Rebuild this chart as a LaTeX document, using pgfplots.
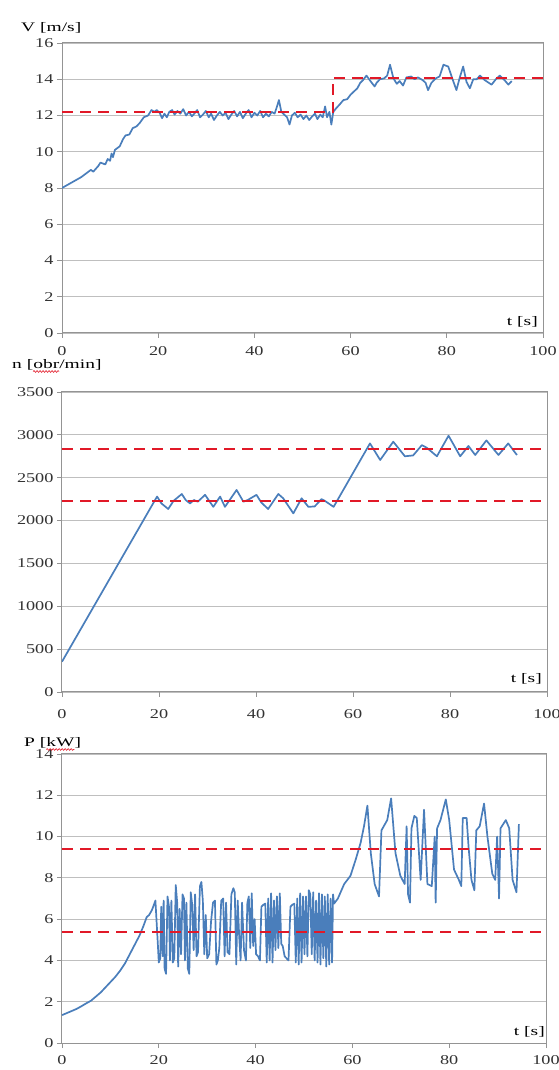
\documentclass[border=0pt]{standalone}
\usepackage{pgfplots}
\pgfplotsset{compat=1.18}
\usepackage{fontspec}
\setmainfont[FakeStretch=1.35]{Liberation Serif}
\newfontfamily\labfont[FakeStretch=1.5]{Liberation Serif}
\usetikzlibrary{decorations.pathmorphing}
\definecolor{lblue}{RGB}{74,126,187}
\definecolor{dred}{RGB}{225,25,40}
\newlength\wna \newlength\wnb \newlength\wpa \newlength\wpb
\pgfplotsset{
  myax/.style={scale only axis, anchor=south west,
    xmin=0, xmax=100, xtick={0,20,...,100},
    ymajorgrids, major grid style={draw=black!25, line width=0.9pt},
    axis line style={draw=black!42, line width=1pt},
    tick style={draw=black!42, line width=0.9pt},
    tick align=outside, major tick length=5pt,
    xtick pos=bottom, ytick pos=left,
    ticklabel style={font=\fontsize{13.5}{15}\selectfont, text=black!80},
    /pgf/number format/assume math mode=true,
    /pgf/number format/1000 sep={}},
  dat/.style={draw=lblue, line width=1.7pt, line join=round, no marks},
  ref/.style={draw=dred, line width=2pt, dash pattern=on 11pt off 7pt, no marks}
}
\begin{document}%
\settowidth\wna{\labfont\fontsize{13}{15}\selectfont n [}%
\settowidth\wnb{\labfont\fontsize{13}{15}\selectfont obr}%
\settowidth\wpa{\labfont\fontsize{13}{15}\selectfont P [}%
\settowidth\wpb{\labfont\fontsize{13}{15}\selectfont kW}%
\begin{tikzpicture}[x=1pt,y=1pt]
\path[use as bounding box] (0,0) rectangle (559,1070);
% ---------- V ----------
\begin{axis}[myax, at={(62pt,737pt)}, width=481pt, height=290pt,
  ymin=0, ymax=16, ytick={0,2,...,16}, xticklabel style={yshift=-5pt}]
\addplot[dat] coordinates {
(0,8.0) (1,8.15) (2,8.3) (3,8.45) (4,8.6) (5,8.8) (6,9.0) (6.5,8.9) (7.5,9.2) (8,9.4) (9,9.3) (9.5,9.6) (10,9.5) (10.3,9.9) (10.6,9.7) (11,10.1) (11.5,10.2) (12,10.3) (12.7,10.7) (13.2,10.9) (14,10.95) (14.7,11.3) (15.5,11.4) (16.2,11.6) (17,11.9) (17.9,12.0) (18.6,12.3) (19.2,12.2) (19.7,12.3) (20.3,12.15) (20.8,11.85) (21.3,12.1) (21.8,11.9) (22.3,12.2) (22.9,12.3) (23.4,12.05) (24,12.25) (24.6,12.1) (25.2,12.35) (25.8,12.0) (26.4,12.2) (27,11.95) (27.5,12.1) (28.1,12.3) (28.7,11.9) (29.3,12.05) (29.9,12.25) (30.5,11.9) (31,12.1) (31.6,11.75) (32.2,12.0) (32.8,12.2) (33.4,12.0) (34,12.15) (34.6,11.8) (35.2,12.05) (35.8,12.25) (36.4,11.95) (37,12.2) (37.6,11.85) (38.2,12.1) (38.8,12.3) (39.4,11.9) (40,12.15) (40.6,12.0) (41.2,12.25) (41.8,11.9) (42.4,12.1) (43,11.95) (43.6,12.2) (44.2,12.1) (44.7,12.5) (45.1,12.85) (45.6,12.2) (46.2,12.05) (46.8,11.9) (47.3,11.5) (47.8,12.0) (48.4,12.15) (49,11.9) (49.6,12.05) (50.2,11.8) (50.8,12.0) (51.4,11.75) (52,11.95) (52.6,12.1) (53.1,11.8) (53.7,12.05) (54.2,11.9) (54.7,12.5) (55.1,11.9) (55.6,12.2) (56.0,11.5) (56.4,12.2) (57,12.4) (57.7,12.6) (58.5,12.85) (59.3,12.9) (60,13.15) (60.6,13.3) (61.4,13.5) (62,13.8) (62.6,13.96) (63.3,14.2) (64.4,13.8) (65,13.6) (65.4,13.8) (66.1,14.0) (67,14.05) (67.6,14.2) (68.2,14.8) (68.9,14.05) (69.6,13.75) (70.2,13.9) (70.9,13.65) (71.6,14.1) (72.6,14.15) (73.3,14.0) (74,14.1) (75,13.95) (75.6,13.8) (76.1,13.4) (76.8,13.8) (77.7,14.05) (78.5,14.15) (79.3,14.8) (80.3,14.7) (81.2,14.0) (82,13.4) (82.7,14.1) (83.4,14.7) (84.1,13.85) (84.8,13.5) (85.5,14.0) (86.2,14.0) (86.9,14.2) (87.9,13.95) (89.3,13.7) (90.2,14.0) (91,14.2) (92,13.95) (92.8,13.7) (93.5,13.9)
};
\addplot[ref] coordinates {(0,12.2) (56.3,12.2) (56.3,14.05) (100,14.05)};
\end{axis}
% ---------- n ----------
\begin{axis}[myax, at={(62pt,378pt)}, width=485pt, height=300pt,
  ymin=0, ymax=3500, ytick={0,500,...,3500}, xticklabel style={yshift=-9pt}]
\addplot[dat] coordinates {
(0,354) (19.6,2280) (20.5,2200) (21.9,2135) (23,2230) (24.7,2310) (25.5,2240) (26.4,2200) (27.2,2240) (28,2220) (29.5,2300) (31.2,2160) (32.6,2280) (33.6,2160) (36.0,2357) (37.4,2220) (38.3,2240) (40.1,2300) (41.1,2210) (42.5,2135) (44.6,2310) (45.6,2260) (47.7,2084) (49.4,2260) (50.8,2160) (52.1,2165) (53.5,2250) (54.2,2230) (56.0,2160) (63.5,2900) (65.6,2707) (68.3,2920) (70.7,2750) (72.4,2760) (74.2,2880) (75.2,2850) (77.3,2750) (79.7,2990) (82.1,2750) (83.8,2870) (85.2,2765) (87.5,2935) (90.0,2765) (92.0,2900) (93.8,2765)
};
\addplot[ref] coordinates {(0,2230) (100,2230)};
\addplot[ref] coordinates {(0,2830) (100,2830)};
\end{axis}
% ---------- P ----------
\begin{axis}[myax, at={(62pt,27pt)}, width=484pt, height=289pt,
  ymin=0, ymax=14, ytick={0,2,...,14}, xticklabel style={yshift=-4pt}]
\addplot[dat] coordinates {
(0,1.35) (1,1.45) (2,1.55) (3,1.65) (4,1.78) (5,1.92) (6,2.05) (7,2.25) (8,2.45) (9,2.7) (10,2.95) (11,3.2) (12,3.5) (13,3.85) (14,4.3) (15,4.75) (16,5.2) (16.8,5.65) (17.5,6.1) (18,6.2) (18.6,6.45) (19.3,6.9)
(19.8,4.8) (20.0,3.9) (20.3,4.1) (20.5,6.6) (20.8,4.2) (21.0,6.9) (21.2,3.6) (21.5,3.35) (21.8,7.1) (22.1,6.6) (22.3,4.0) (22.6,6.9) (22.9,3.9) (23.2,4.1) (23.5,7.65) (23.8,6.8) (24.0,3.7) (24.3,6.5) (24.6,4.3) (24.9,7.2) (25.2,7.0) (25.4,4.0) (25.7,6.8) (26.0,3.6) (26.3,3.35) (26.6,7.3) (26.9,6.7) (27.2,4.5) (27.5,7.2) (27.8,4.2) (28.1,4.4) (28.5,7.6) (28.8,7.8) (29.1,6.9) (29.4,4.3) (29.7,6.2) (30.0,4.1) (30.4,4.3) (30.8,5.9) (31.2,6.8) (31.6,6.9) (31.9,3.8) (32.2,4.0) (32.5,4.6) (32.9,6.9) (33.3,7.0) (33.6,4.2) (33.9,6.8) (34.2,4.4) (34.6,4.3) (35.0,7.2) (35.4,7.5) (35.7,7.3) (36.0,3.8) (36.3,6.9) (36.6,5.2) (36.9,4.0) (37.2,6.8) (37.6,4.5) (38.0,4.0) (38.3,6.8) (38.6,7.1) (38.9,4.6) (39.2,7.25) (39.5,4.7) (39.8,6.0) (40.1,4.3) (40.5,4.2) (40.9,4.0) (41.2,6.6) (41.6,6.7) (42.0,6.75) (42.3,3.9) (42.6,7.0) (42.9,4.0) (43.2,7.25) (43.5,3.9) (43.8,6.9) (44.1,4.5) (44.4,7.1) (44.7,4.6) (45.0,7.25) (45.3,4.8) (45.6,4.7) (46.0,4.2) (46.4,4.1) (46.8,4.0) (47.2,6.6) (47.6,6.7) (48.0,6.75) (48.3,3.9) (48.6,7.0) (48.9,3.8) (49.2,7.25) (49.5,3.9) (49.8,7.1) (50.1,4.3) (50.4,7.1) (50.7,4.2) (51.0,7.4) (51.3,7.2) (51.6,4.3) (51.9,7.3) (52.2,4.0) (52.5,6.9) (52.8,3.9) (53.1,7.25) (53.4,3.8) (53.7,7.2) (54.0,4.1) (54.3,7.1) (54.6,3.7) (54.9,7.2) (55.2,3.8) (55.5,7.0) (55.8,3.9) (56.0,7.2) (56.2,6.75)
(57,7.0) (58.3,7.7) (59.6,8.1) (60.7,8.9) (61.7,9.7) (62.4,10.5) (63.1,11.5)
(63.8,9.2) (64.6,7.7) (65.5,7.1) (66.0,10.3) (67.2,10.8) (68.0,11.85) (68.9,9.2) (69.9,8.1) (70.8,7.7) (71.2,10.5) (71.5,7.2) (71.9,6.8) (72.2,10.4) (72.8,11.0) (73.3,10.9) (74.1,7.9) (74.8,11.3) (75.5,7.7) (76.4,7.6) (77.0,10.0) (77.2,6.8) (77.5,10.4) (78.2,10.8) (79.3,11.8) (80.0,10.8) (81.0,8.4) (82.0,7.9) (82.5,7.6) (82.8,10.9) (83.6,10.9) (84.0,9.5) (84.6,7.9) (85.2,7.4) (85.6,10.3) (86.3,10.5) (87.2,11.6) (87.9,10.0) (88.9,8.2) (89.5,7.9) (89.9,10.0) (90.3,7.0) (90.6,10.4) (91.7,10.8) (92.4,10.4) (93.1,7.9) (93.9,7.3) (94.4,10.6)
};
\addplot[ref] coordinates {(0,5.4) (100,5.4)};
\addplot[ref] coordinates {(0,9.4) (100,9.4)};
\end{axis}
% ---------- labels ----------
\begin{scope}[every node/.style={inner sep=0pt, font=\labfont\fontsize{13}{15}\selectfont}]
\node[anchor=base west] at (21,1038) {V [m/s]};
\node[anchor=base west] (nl) at (12,701) {n [obr/min]};
\node[anchor=base west] (pl) at (24,323) {P [kW]};
\node[anchor=base east] at (538,744) {t [s]};
\node[anchor=base east] at (542,387) {t [s]};
\node[anchor=base east] at (545,34) {t [s]};
\end{scope}
\draw[dred, line width=0.6pt, decorate, decoration={snake, amplitude=0.9pt, segment length=3pt}] ([xshift=\wna, yshift=-2.5pt]nl.base west) -- ([xshift=\wna+\wnb, yshift=-2.5pt]nl.base west);
\draw[dred, line width=0.6pt, decorate, decoration={snake, amplitude=0.9pt, segment length=3pt}] ([xshift=\wpa, yshift=-2.5pt]pl.base west) -- ([xshift=\wpa+\wpb, yshift=-2.5pt]pl.base west);
\end{tikzpicture}%
\end{document}
